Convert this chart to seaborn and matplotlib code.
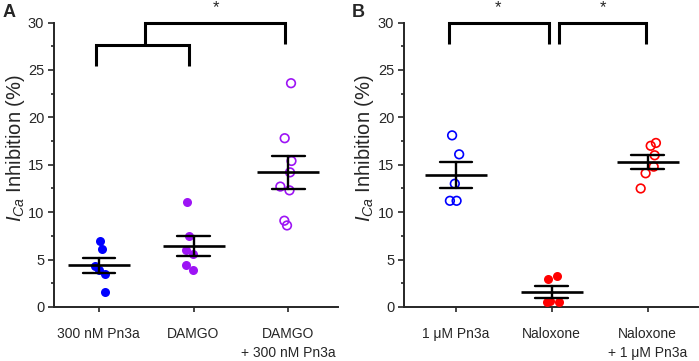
#!/usr/bin/env python3
import numpy as np
import matplotlib
matplotlib.use("Agg")
import matplotlib.pyplot as plt
from matplotlib.ticker import MultipleLocator
import pandas as pd
import seaborn as sns

# Panel A: ICa inhibition (%) per condition
A_GROUPS = ["300 nM Pn3a", "DAMGO", "DAMGO\n+ 300 nM Pn3a"]
A_PN3A = [7.0, 6.1, 4.3, 3.9, 3.5, 1.6]
A_DAMGO = [11.1, 7.5, 6.0, 5.6, 4.4, 3.9]
A_DAMGO_PN3A = [23.6, 17.8, 15.4, 14.2, 12.7, 12.3, 9.1, 8.6]

# Panel B
B_GROUPS = ["1 \u03bcM Pn3a", "Naloxone", "Naloxone\n+ 1 \u03bcM Pn3a"]
B_PN3A = [18.1, 16.1, 13.0, 11.2, 11.2]
B_NALOXONE = [3.3, 2.9, 0.5, 0.6, 0.5]
B_NALOXONE_PN3A = [17.3, 17.0, 16.0, 14.8, 14.1, 12.5]

BLUE = "#0000ff"
PURPLE = "#9d14f5"
RED = "#ff0000"

YLABEL = r"$I_{Ca}$ Inhibition (%)"


def long_frame(groups, series):
    return pd.DataFrame({
        "group": np.repeat(groups, [len(s) for s in series]),
        "value": np.concatenate(series),
    })


def draw_panel(ax, groups, series, colors, filled, xlim, label_x):
    df = long_frame(groups, series)
    for g, c, f in zip(groups, colors, filled):
        sub = df[df["group"] == g]
        if f:
            sns.stripplot(data=sub, x="group", y="value", order=groups,
                          color=c, size=6.5, jitter=0.09, linewidth=0, ax=ax)
        else:
            sns.stripplot(data=sub, x="group", y="value", order=groups,
                          color=c, facecolor="none", edgecolor=c,
                          linewidth=1.2, size=6.2, jitter=0.09, ax=ax)
    # mean +/- SEM
    sns.pointplot(data=df, x="group", y="value", order=groups,
                  errorbar="se", capsize=0.34, color="black",
                  markers="_", markersize=45, markeredgewidth=1.9,
                  linestyles="none", zorder=5,
                  err_kws={"linewidth": 1.7, "zorder": 5}, ax=ax)

    ax.set_xlim(*xlim)
    ax.set_ylim(0, 30)
    ax.yaxis.set_major_locator(MultipleLocator(5))
    ax.yaxis.set_minor_locator(MultipleLocator(2.5))
    ax.tick_params(axis="y", which="major", length=4.5, width=1.2,
                   labelsize=10.5, pad=2.5)
    ax.tick_params(axis="y", which="minor", length=2, width=1.2)
    ax.tick_params(axis="x", length=3.5, width=1.2, labelsize=10, pad=11)
    for lbl in ax.get_xticklabels():
        lbl.set_linespacing(1.4)
    ax.set_xlabel("")
    ax.set_ylabel(YLABEL, fontsize=14.5)
    ax.yaxis.set_label_coords(label_x, 0.56)
    sns.despine(ax=ax)
    for s in ax.spines.values():
        s.set_linewidth(1.4)


def bracket(ax, xs, ys):
    ax.plot(xs, ys, color="black", lw=2.2, clip_on=False,
            solid_joinstyle="miter", solid_capstyle="butt", zorder=6)


def star(ax, x):
    ax.text(x, 31.6, "*", ha="center", va="center", fontsize=12,
            clip_on=False)


def main():
    sns.set_style("ticks")
    plt.rcParams["font.family"] = ["Liberation Sans", "DejaVu Sans"]
    plt.rcParams["mathtext.fontset"] = "custom"
    plt.rcParams["mathtext.it"] = "Liberation Sans:italic"
    plt.rcParams["mathtext.rm"] = "Liberation Sans"
    np.random.seed(3)

    fig = plt.figure(figsize=(6.99, 3.61), dpi=100)
    ax_a = fig.add_axes([0.0773, 0.1496, 0.406, 0.788])
    ax_b = fig.add_axes([0.578, 0.1496, 0.42, 0.788])

    draw_panel(ax_a, A_GROUPS, [A_PN3A, A_DAMGO, A_DAMGO_PN3A],
               [BLUE, PURPLE, PURPLE], [True, True, False], (-0.47, 2.52),
               -0.096)
    draw_panel(ax_b, B_GROUPS, [B_PN3A, B_NALOXONE, B_NALOXONE_PN3A],
               [BLUE, RED, RED], [False, True, False], (-0.54, 2.52),
               -0.094)

    # significance brackets
    bracket(ax_a, [-0.03, -0.03, 0.95, 0.95], [25.4, 27.6, 27.6, 25.4])
    bracket(ax_a, [0.49, 0.49, 1.96, 1.96], [27.6, 30.0, 30.0, 27.7])
    star(ax_a, 1.24)
    bracket(ax_b, [-0.07, -0.07, 0.97, 0.97], [27.7, 30.0, 30.0, 27.7])
    bracket(ax_b, [1.08, 1.08, 1.98, 1.98], [27.7, 30.0, 30.0, 27.7])
    star(ax_b, 0.44)
    star(ax_b, 1.53)

    fig.text(0.004, 0.99, "A", fontsize=13, weight="bold", va="top")
    fig.text(0.503, 0.99, "B", fontsize=13, weight="bold", va="top")

    fig.savefig("out.png", dpi=100)
    plt.close(fig)


if __name__ == "__main__":
    main()
